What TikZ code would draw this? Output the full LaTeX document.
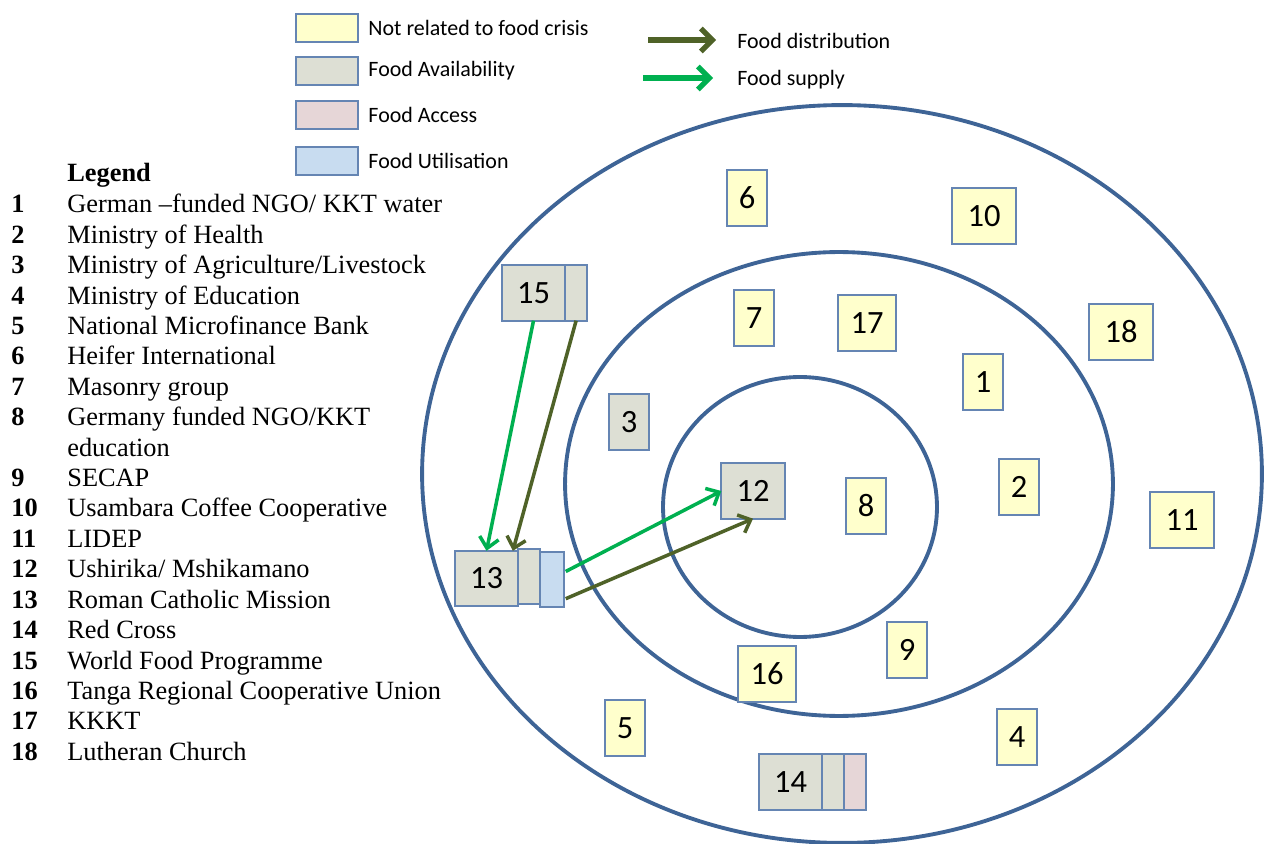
\documentclass[tikz,border=0pt]{standalone}
\usepackage{fontspec}
\setmainfont{Liberation Serif}
\newfontfamily\calib{Carlito}
\usetikzlibrary{positioning}
\usetikzlibrary{arrows.meta}
\definecolor{ringblue}{HTML}{3E6496}
\definecolor{edge}{HTML}{6585B3}
\definecolor{notrel}{HTML}{FFFFCC}
\definecolor{avail}{HTML}{DDDFD4}
\definecolor{access}{HTML}{E6D6D7}
\definecolor{utilis}{HTML}{C8DCF0}
\definecolor{distrib}{HTML}{4F6228}
\definecolor{supply}{HTML}{00B050}
\tikzset{
  % An organisation box, filled by its food-security role
  org/.style={
    draw=edge, line width=1.1pt, fill=#1, inner sep=0pt, outer sep=0pt,
    minimum width=23pt, minimum height=31.5pt,
    font=\calib\fontsize{18.5}{20}\selectfont},
  org/.default=notrel,
  orgwide/.style={org=#1, minimum width=36pt},
  orgwide/.default=notrel,
  % An extra compartment glued to a box
  compart/.style={
    draw=edge, line width=1.1pt, fill=#1, inner sep=0pt, outer sep=0pt,
    minimum width=12.5pt, minimum height=31.5pt},
  % Legend swatches and their texts
  swatch/.style={
    draw=edge, line width=1.1pt, fill=#1, inner sep=0pt,
    minimum width=35.7pt, minimum height=16.4pt},
  keytext/.style={font=\calib\fontsize{12.5}{14}\selectfont, inner sep=0pt},
  % The rings
  ringline/.style={draw=ringblue, line width=2.2pt},
  % Flows
  dist/.style={draw=distrib, line width=2pt, -{Straight Barb[length=6pt,width=11pt]}},
  supp/.style={draw=supply, line width=2pt, -{Straight Barb[length=6pt,width=11pt]}},
  bigtip/.style={line width=3pt, -{Straight Barb[length=6.5pt,width=13pt]}},
  % Numbered list
  num/.style={font=\bfseries\fontsize{15}{17.25}\selectfont, anchor=base west, inner sep=0pt},
  entry/.style={font=\fontsize{15}{17.25}\selectfont, anchor=base west, inner sep=0pt},
}
\newcommand{\legitem}[3]{%
  \node[num] (n#1) at (11,#2) {#1};
  \node[entry] (t#1) at (67,#2) {#3};}

\begin{document}
\begin{tikzpicture}[x=0.02cm, y=-0.02cm]

  \useasboundingbox (0,0) rectangle (1268,844);

  % rings
  \draw[ringline] (842,474) ellipse [x radius=8.4cm, y radius=7.38cm];
  \draw[ringline] (839,484) ellipse [x radius=5.48cm, y radius=4.64cm];
  \draw[ringline] (800,507) ellipse [x radius=2.74cm, y radius=2.6cm];

  % legend at the top
  \node[swatch=notrel] (sw1) at (327,28) {};
  \node[swatch=avail]  (sw2) at (327,71) {};
  \node[swatch=access] (sw3) at (327,115) {};
  \node[swatch=utilis] (sw4) at (327,161) {};
  \node[keytext, right=5pt of sw1] (k1) {Not related to food crisis};
  \node[keytext, right=5pt of sw2] (k2) {Food Availability};
  \node[keytext, right=5pt of sw3] (k3) {Food Access};
  \node[keytext, right=5pt of sw4] (k4) {Food Utilisation};

  \coordinate (dA) at (648,40);
  \coordinate (dB) at (716,40);
  \coordinate (sA) at (643,78);
  \coordinate (sB) at (713,78);
  \draw[dist, bigtip] (dA) -- (dB);
  \draw[supp, bigtip] (sA) -- (sB);
  \node[keytext, anchor=west] (kd) at (737,41) {Food distribution};
  \node[keytext, anchor=west] (ks) at (737,80) {Food supply};

  % numbered list
  \node[num] (legtitle) at (67,182) {Legend};
  \legitem{1}{213}{German –funded NGO/ KKT water}
  \legitem{2}{243.4}{Ministry of Health}
  \legitem{3}{273.8}{Ministry of Agriculture/Livestock}
  \legitem{4}{304.2}{Ministry of Education}
  \legitem{5}{334.6}{National Microfinance Bank}
  \legitem{6}{365}{Heifer International}
  \legitem{7}{395.4}{Masonry group}
  \legitem{8}{425.8}{Germany funded NGO/KKT}
  \node[entry] (t8b) at (67,456.2) {education};
  \legitem{9}{486.6}{SECAP}
  \legitem{10}{517}{Usambara Coffee Cooperative}
  \legitem{11}{547.4}{LIDEP}
  \legitem{12}{577.8}{Ushirika/ Mshikamano}
  \legitem{13}{608.2}{Roman Catholic Mission}
  \legitem{14}{638.6}{Red Cross}
  \legitem{15}{669}{World Food  Programme}
  \legitem{16}{699.4}{Tanga Regional Cooperative Union}
  \legitem{17}{729.8}{KKKT}
  \legitem{18}{760.2}{Lutheran Church}

  % organisations
  \node[org] (b6) at (747,198) {6};
  \node[orgwide] (b10) at (984,216) {10};
  \node[org] (b7) at (754,318) {7};
  \node[orgwide, minimum width=33.5pt] (b17) at (867,323) {17};
  \node[orgwide] (b18) at (1121,332) {18};
  \node[org] (b1) at (983,382) {1};
  \node[org] (b2) at (1019,487) {2};
  \node[org] (b8) at (866,506) {8};
  \node[orgwide] (b11) at (1182,520) {11};
  \node[org] (b9) at (907,650) {9};
  \node[orgwide, minimum width=33.5pt] (b16) at (767,674) {16};
  \node[org] (b5) at (625,728) {5};
  \node[org] (b4) at (1017,737) {4};
  \node[org=avail] (b3) at (629,422) {3};
  \node[orgwide=avail] (b12) at (753,491) {12};

  \node[orgwide=avail] (b15) at (533.5,293) {15};
  \node[compart=avail, right=0pt of b15] (b15a) {};
  \node[orgwide=avail] (b13) at (486.5,578.5) {13};
  \node[compart=avail, right=0pt of b13, yshift=1pt] (b13a) {};
  \node[compart=utilis, minimum width=13.6pt, right=0pt of b13a, yshift=-1.5pt] (b13b) {};
  \node[orgwide=avail] (b14) at (790.5,782) {14};
  \node[compart=avail, right=0pt of b14] (b14a) {};
  \node[compart=access, right=0pt of b14a] (b14b) {};

  % flows
  \draw[supp] (b15.south) -- (b13.north);
  \draw[dist] (b15a.south) -- ([xshift=-3pt]b13.north east);
  \draw[supp] ([yshift=4.5pt,xshift=1pt]b13b.east) -- (b12.west);
  \draw[dist] ([yshift=-11pt,xshift=1pt]b13b.east) -- (b12.south);

\end{tikzpicture}
\end{document}
